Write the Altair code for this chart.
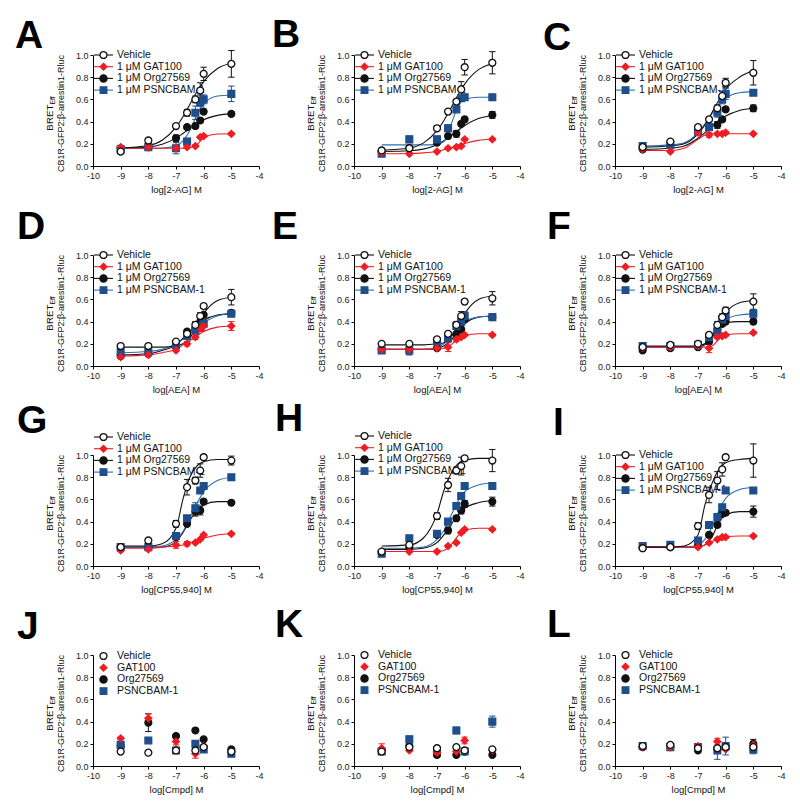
import altair as alt
import pandas as pd

FONT = "Liberation Sans"
SERIES = ["Vehicle", "GAT100", "Org27569", "PSNCBAM-1"]
DRAW_ORDER = ["Org27569", "PSNCBAM-1", "GAT100", "Vehicle"]
LEG_CURVE = ["Vehicle", "1 μM GAT100", "1 μM Org27569", "1 μM PSNCBAM-1"]
LEG_PLAIN = ["Vehicle", "GAT100", "Org27569", "PSNCBAM-1"]

X8 = [-9, -8, -7, -6.6, -6.3, -6.125, -6, -5]
X6 = [-9, -8, -7, -6.3, -6, -5]
XK = [-9, -8, -7.5, -7, -6.75, -6.5, -6.25, -6, -5.5, -5]

# ---------------- data ----------------
A_y = {"Vehicle": [0.13, 0.23, 0.36, 0.48, 0.60, 0.68, 0.83, 0.92],
       "GAT100": [0.17, 0.17, 0.16, 0.17, 0.18, 0.26, 0.27, 0.29],
       "Org27569": [0.16, 0.17, 0.25, 0.35, 0.36, 0.41, 0.49, 0.47],
       "PSNCBAM-1": [0.15, 0.17, 0.16, 0.22, 0.48, 0.57, 0.60, 0.65]}
A_err = {"Vehicle": [0.02, 0.02, 0.02, 0.03, 0.03, 0.07, 0.06, 0.12],
         "GAT100": [0.01, 0.01, 0.01, 0.01, 0.01, 0.01, 0.01, 0.01],
         "Org27569": [0.01, 0.01, 0.03, 0.02, 0.02, 0.02, 0.02, 0.02],
         "PSNCBAM-1": [0.02, 0.02, 0.05, 0.03, 0.06, 0.07, 0.04, 0.07]}
A_fit = {"Vehicle": [0.162, 0.185, 0.232, 0.35, 0.444, 0.555, 0.666, 0.76, 0.878, 0.925],
         "GAT100": [0.16, 0.16, 0.16, 0.16, 0.16, 0.165, 0.19, 0.255, 0.288, 0.29],
         "Org27569": [0.161, 0.172, 0.196, 0.251, 0.293, 0.338, 0.381, 0.416, 0.456, 0.472],
         "PSNCBAM-1": [0.16, 0.16, 0.162, 0.183, 0.226, 0.32, 0.454, 0.56, 0.63, 0.64]}

B_y = {"Vehicle": [0.14, 0.16, 0.34, 0.49, 0.58, 0.69, 0.89, 0.93],
       "GAT100": [0.12, 0.11, 0.13, 0.16, 0.17, 0.18, 0.24, 0.24],
       "Org27569": [0.13, 0.16, 0.21, 0.27, 0.29, 0.38, 0.42, 0.46],
       "PSNCBAM-1": [0.11, 0.24, 0.24, 0.34, 0.51, 0.61, 0.62, 0.62]}
B_err = {"Vehicle": [0.02, 0.02, 0.02, 0.02, 0.02, 0.07, 0.07, 0.10],
         "GAT100": [0.01, 0.01, 0.01, 0.01, 0.01, 0.01, 0.01, 0.01],
         "Org27569": [0.01, 0.01, 0.01, 0.02, 0.03, 0.02, 0.02, 0.03],
         "PSNCBAM-1": [0.01, 0.03, 0.03, 0.03, 0.02, 0.02, 0.01, 0.01]}
B_fit = {"Vehicle": [0.142, 0.162, 0.206, 0.318, 0.41, 0.521, 0.637, 0.738, 0.868, 0.922],
         "GAT100": [0.11, 0.113, 0.118, 0.133, 0.147, 0.164, 0.184, 0.203, 0.231, 0.243],
         "Org27569": [0.131, 0.137, 0.152, 0.192, 0.227, 0.271, 0.319, 0.365, 0.428, 0.455],
         "PSNCBAM-1": [0.19, 0.19, 0.19, 0.195, 0.22, 0.37, 0.53, 0.60, 0.62, 0.62]}

C_y = {"Vehicle": [0.17, 0.22, 0.35, 0.42, 0.52, 0.63, 0.75, 0.84],
       "GAT100": [0.15, 0.13, 0.30, 0.28, 0.29, 0.29, 0.30, 0.29],
       "Org27569": [0.15, 0.18, 0.32, 0.36, 0.37, 0.42, 0.51, 0.52],
       "PSNCBAM-1": [0.18, 0.19, 0.31, 0.35, 0.48, 0.60, 0.65, 0.66]}
C_err = {"Vehicle": [0.01, 0.02, 0.02, 0.02, 0.03, 0.04, 0.04, 0.11],
         "GAT100": [0.01, 0.01, 0.01, 0.02, 0.01, 0.01, 0.01, 0.01],
         "Org27569": [0.01, 0.01, 0.02, 0.02, 0.03, 0.02, 0.02, 0.03],
         "PSNCBAM-1": [0.01, 0.01, 0.02, 0.03, 0.04, 0.04, 0.05, 0.02]}
C_fit = {"Vehicle": [0.17, 0.18, 0.20, 0.29, 0.37, 0.48, 0.59, 0.69, 0.80, 0.86],
         "GAT100": [0.14, 0.14, 0.16, 0.24, 0.28, 0.29, 0.29, 0.29, 0.29, 0.29],
         "Org27569": [0.15, 0.16, 0.18, 0.25, 0.30, 0.35, 0.41, 0.45, 0.50, 0.52],
         "PSNCBAM-1": [0.18, 0.19, 0.21, 0.30, 0.38, 0.47, 0.55, 0.61, 0.66, 0.67]}

D_y = {"Vehicle": [0.18, 0.18, 0.22, 0.29, 0.37, 0.45, 0.54, 0.62],
       "GAT100": [0.08, 0.10, 0.14, 0.20, 0.26, 0.34, 0.36, 0.36],
       "Org27569": [0.09, 0.11, 0.19, 0.31, 0.34, 0.40, 0.46, 0.48],
       "PSNCBAM-1": [0.13, 0.13, 0.19, 0.27, 0.32, 0.36, 0.38, 0.47]}
D_err = {"Vehicle": [0.01, 0.01, 0.01, 0.02, 0.03, 0.03, 0.02, 0.07],
         "GAT100": [0.01, 0.01, 0.01, 0.02, 0.02, 0.03, 0.04, 0.04],
         "Org27569": [0.01, 0.01, 0.01, 0.02, 0.05, 0.03, 0.02, 0.02],
         "PSNCBAM-1": [0.01, 0.01, 0.01, 0.02, 0.02, 0.05, 0.03, 0.02]}
D_fit = {"Vehicle": [0.17, 0.17, 0.17, 0.18, 0.20, 0.25, 0.36, 0.47, 0.59, 0.62],
         "GAT100": [0.09, 0.10, 0.12, 0.15, 0.19, 0.23, 0.27, 0.31, 0.35, 0.36],
         "Org27569": [0.10, 0.11, 0.14, 0.19, 0.25, 0.31, 0.36, 0.41, 0.46, 0.47],
         "PSNCBAM-1": [0.12, 0.13, 0.15, 0.20, 0.24, 0.29, 0.34, 0.39, 0.45, 0.48]}

E_y = {"Vehicle": [0.20, 0.20, 0.24, 0.29, 0.37, 0.45, 0.58, 0.61],
       "GAT100": [0.15, 0.15, 0.16, 0.17, 0.24, 0.26, 0.28, 0.28],
       "Org27569": [0.15, 0.15, 0.16, 0.25, 0.29, 0.33, 0.42, 0.44],
       "PSNCBAM-1": [0.14, 0.14, 0.22, 0.25, 0.36, 0.40, 0.45, 0.44]}
E_err = {"Vehicle": [0.01, 0.01, 0.01, 0.02, 0.03, 0.04, 0.02, 0.06],
         "GAT100": [0.01, 0.01, 0.01, 0.04, 0.02, 0.01, 0.01, 0.01],
         "Org27569": [0.01, 0.05, 0.01, 0.02, 0.05, 0.03, 0.02, 0.02],
         "PSNCBAM-1": [0.02, 0.02, 0.02, 0.03, 0.03, 0.03, 0.04, 0.03]}
E_fit = {"Vehicle": [0.19, 0.19, 0.19, 0.20, 0.21, 0.26, 0.35, 0.47, 0.60, 0.63],
         "GAT100": [0.15, 0.15, 0.15, 0.15, 0.16, 0.19, 0.24, 0.27, 0.29, 0.29],
         "Org27569": [0.15, 0.15, 0.15, 0.16, 0.18, 0.23, 0.31, 0.38, 0.44, 0.45],
         "PSNCBAM-1": [0.15, 0.15, 0.15, 0.17, 0.20, 0.26, 0.34, 0.40, 0.44, 0.45]}

F_y = {"Vehicle": [0.17, 0.19, 0.20, 0.28, 0.37, 0.44, 0.50, 0.58],
       "GAT100": [0.16, 0.17, 0.18, 0.16, 0.26, 0.27, 0.28, 0.30],
       "Org27569": [0.14, 0.16, 0.17, 0.22, 0.33, 0.38, 0.40, 0.40],
       "PSNCBAM-1": [0.18, 0.18, 0.19, 0.26, 0.31, 0.42, 0.45, 0.47]}
F_err = {"Vehicle": [0.01, 0.01, 0.02, 0.02, 0.03, 0.03, 0.03, 0.07],
         "GAT100": [0.01, 0.01, 0.01, 0.04, 0.01, 0.01, 0.01, 0.01],
         "Org27569": [0.01, 0.02, 0.02, 0.02, 0.04, 0.02, 0.02, 0.02],
         "PSNCBAM-1": [0.02, 0.02, 0.03, 0.03, 0.03, 0.03, 0.02, 0.04]}
F_fit = {"Vehicle": [0.18, 0.18, 0.18, 0.18, 0.20, 0.25, 0.38, 0.48, 0.57, 0.59],
         "GAT100": [0.17, 0.17, 0.17, 0.17, 0.17, 0.18, 0.24, 0.28, 0.29, 0.29],
         "Org27569": [0.17, 0.17, 0.17, 0.17, 0.19, 0.27, 0.36, 0.39, 0.40, 0.40],
         "PSNCBAM-1": [0.17, 0.17, 0.17, 0.18, 0.20, 0.28, 0.37, 0.42, 0.46, 0.47]}

G_y = {"Vehicle": [0.17, 0.23, 0.38, 0.71, 0.77, 0.86, 0.98, 0.95],
       "GAT100": [0.14, 0.15, 0.19, 0.20, 0.21, 0.24, 0.28, 0.29],
       "Org27569": [0.17, 0.17, 0.26, 0.38, 0.49, 0.50, 0.58, 0.57],
       "PSNCBAM-1": [0.17, 0.17, 0.27, 0.43, 0.52, 0.68, 0.72, 0.80]}
G_err = {"Vehicle": [0.01, 0.01, 0.03, 0.07, 0.03, 0.06, 0.02, 0.04],
         "GAT100": [0.01, 0.01, 0.03, 0.02, 0.01, 0.01, 0.01, 0.01],
         "Org27569": [0.01, 0.01, 0.02, 0.02, 0.04, 0.04, 0.02, 0.01],
         "PSNCBAM-1": [0.01, 0.01, 0.02, 0.02, 0.05, 0.02, 0.02, 0.02]}
G_fit = {"Vehicle": [0.18, 0.18, 0.20, 0.34, 0.60, 0.80, 0.90, 0.94, 0.96, 0.96],
         "GAT100": [0.16, 0.16, 0.17, 0.18, 0.19, 0.21, 0.23, 0.25, 0.28, 0.29],
         "Org27569": [0.17, 0.17, 0.17, 0.22, 0.30, 0.41, 0.50, 0.55, 0.58, 0.58],
         "PSNCBAM-1": [0.17, 0.17, 0.18, 0.24, 0.31, 0.43, 0.56, 0.67, 0.77, 0.80]}

H_y = {"Vehicle": [0.13, 0.19, 0.45, 0.73, 0.86, 0.90, 0.97, 0.95],
       "GAT100": [0.13, 0.13, 0.13, 0.18, 0.21, 0.30, 0.33, 0.33],
       "Org27569": [0.12, 0.17, 0.28, 0.32, 0.43, 0.50, 0.56, 0.58],
       "PSNCBAM-1": [0.11, 0.25, 0.29, 0.40, 0.54, 0.63, 0.72, 0.72]}
H_err = {"Vehicle": [0.01, 0.01, 0.03, 0.06, 0.03, 0.08, 0.02, 0.10],
         "GAT100": [0.01, 0.01, 0.01, 0.01, 0.01, 0.01, 0.01, 0.01],
         "Org27569": [0.01, 0.01, 0.02, 0.03, 0.02, 0.03, 0.03, 0.04],
         "PSNCBAM-1": [0.01, 0.02, 0.02, 0.02, 0.02, 0.02, 0.02, 0.02]}
H_fit = {"Vehicle": [0.18, 0.19, 0.25, 0.47, 0.68, 0.83, 0.92, 0.95, 0.97, 0.97],
         "GAT100": [0.13, 0.13, 0.13, 0.13, 0.14, 0.19, 0.27, 0.32, 0.34, 0.34],
         "Org27569": [0.15, 0.15, 0.16, 0.21, 0.28, 0.37, 0.46, 0.52, 0.57, 0.59],
         "PSNCBAM-1": [0.16, 0.16, 0.17, 0.24, 0.32, 0.45, 0.58, 0.67, 0.73, 0.75]}

I_y = {"Vehicle": [0.16, 0.17, 0.36, 0.64, 0.77, 0.87, 0.98, 0.95],
       "GAT100": [0.17, 0.17, 0.17, 0.21, 0.24, 0.26, 0.26, 0.27],
       "Org27569": [0.17, 0.17, 0.20, 0.28, 0.37, 0.47, 0.48, 0.49],
       "PSNCBAM-1": [0.18, 0.19, 0.23, 0.37, 0.44, 0.53, 0.68, 0.68]}
I_err = {"Vehicle": [0.01, 0.01, 0.03, 0.07, 0.08, 0.06, 0.02, 0.15],
         "GAT100": [0.01, 0.01, 0.01, 0.01, 0.01, 0.01, 0.01, 0.01],
         "Org27569": [0.01, 0.01, 0.01, 0.02, 0.02, 0.02, 0.02, 0.05],
         "PSNCBAM-1": [0.01, 0.01, 0.01, 0.02, 0.02, 0.02, 0.01, 0.01]}
I_fit = {"Vehicle": [0.17, 0.17, 0.18, 0.28, 0.55, 0.74, 0.87, 0.93, 0.96, 0.97],
         "GAT100": [0.17, 0.17, 0.17, 0.17, 0.19, 0.22, 0.25, 0.265, 0.27, 0.27],
         "Org27569": [0.17, 0.17, 0.17, 0.17, 0.19, 0.26, 0.39, 0.46, 0.49, 0.49],
         "PSNCBAM-1": [0.17, 0.17, 0.17, 0.19, 0.24, 0.35, 0.50, 0.61, 0.69, 0.71]}

J_y = {"Vehicle": [0.13, 0.12, 0.14, 0.14, 0.17, 0.13],
       "GAT100": [0.25, 0.43, 0.22, 0.11, 0.18, 0.13],
       "Org27569": [0.18, 0.39, 0.27, 0.32, 0.24, 0.15],
       "PSNCBAM-1": [0.19, 0.23, 0.14, 0.20, 0.15, 0.11]}
J_err = {"Vehicle": [0.0, 0.0, 0.01, 0.03, 0.01, 0.01],
         "GAT100": [0.01, 0.04, 0.03, 0.04, 0.01, 0.01],
         "Org27569": [0.01, 0.08, 0.01, 0.01, 0.01, 0.01],
         "PSNCBAM-1": [0.01, 0.01, 0.01, 0.01, 0.01, 0.01]}

K_y = {"Vehicle": [0.13, 0.17, 0.16, 0.17, 0.14, 0.15],
       "GAT100": [0.16, 0.14, 0.12, 0.13, 0.23, 0.14],
       "Org27569": [0.14, 0.18, 0.10, 0.10, 0.13, 0.10],
       "PSNCBAM-1": [0.13, 0.24, 0.14, 0.32, 0.13, 0.40]}
K_err = {"Vehicle": [0.0, 0.0, 0.0, 0.0, 0.0, 0.0],
         "GAT100": [0.04, 0.01, 0.01, 0.01, 0.03, 0.02],
         "Org27569": [0.01, 0.01, 0.01, 0.01, 0.01, 0.01],
         "PSNCBAM-1": [0.02, 0.03, 0.01, 0.03, 0.01, 0.05]}

L_y = {"Vehicle": [0.18, 0.19, 0.16, 0.16, 0.17, 0.17],
       "GAT100": [0.17, 0.17, 0.18, 0.22, 0.15, 0.19],
       "Org27569": [0.17, 0.17, 0.14, 0.15, 0.17, 0.20],
       "PSNCBAM-1": [0.18, 0.17, 0.17, 0.14, 0.18, 0.15]}
L_err = {"Vehicle": [0.0, 0.0, 0.0, 0.0, 0.0, 0.0],
         "GAT100": [0.01, 0.01, 0.01, 0.03, 0.01, 0.02],
         "Org27569": [0.01, 0.01, 0.01, 0.01, 0.01, 0.04],
         "PSNCBAM-1": [0.01, 0.01, 0.01, 0.08, 0.08, 0.04]}

X_TITLES = {"A": "log[2-AG] M", "B": "log[2-AG] M", "C": "log[2-AG] M",
            "D": "log[AEA] M", "E": "log[AEA] M", "F": "log[AEA] M",
            "G": "log[CP55,940] M", "H": "log[CP55,940] M", "I": "log[CP55,940] M",
            "J": "log[Cmpd] M", "K": "log[Cmpd] M", "L": "log[Cmpd] M"}

PANELS = [("A", X8, A_y, A_err, A_fit), ("B", X8, B_y, B_err, B_fit), ("C", X8, C_y, C_err, C_fit),
          ("D", X8, D_y, D_err, D_fit), ("E", X8, E_y, E_err, E_fit), ("F", X8, F_y, F_err, F_fit),
          ("G", X8, G_y, G_err, G_fit), ("H", X8, H_y, H_err, H_fit), ("I", X8, I_y, I_err, I_fit),
          ("J", X6, J_y, J_err, None), ("K", X6, K_y, K_err, None), ("L", X6, L_y, L_err, None)]

# ---------------- styling / layout ----------------
W, H = 166, 111
LINE_COL = {"Vehicle": "#111111", "GAT100": "#ee1d23", "Org27569": "#111111", "PSNCBAM-1": "#2f6fb2"}
MK_STROKE = {"Vehicle": "#111111", "GAT100": "#ee1d23", "Org27569": "#111111", "PSNCBAM-1": "#1f4e8c"}
MK_FILL = {"Vehicle": "#ffffff", "GAT100": "#ee1d23", "Org27569": "#111111", "PSNCBAM-1": "#1f4e8c"}
MK_SHAPE = {"Vehicle": "circle", "GAT100": "diamond", "Org27569": "circle", "PSNCBAM-1": "square"}
MK_SIZE = {"Vehicle": 48, "GAT100": 46, "Org27569": 52, "PSNCBAM-1": 44}
LEG_Y0 = {"A": 0, "B": 0, "C": 0, "D": 0, "E": 0, "F": 0, "G": -18, "H": -19, "I": 0,
          "J": 1, "K": 0, "L": 0}
LETTER_POS = {"A": (-78, -7), "B": (-82, -8), "C": (-72, -5), "D": (-76, -16), "E": (-82, -16),
              "F": (-68, -16), "G": (-76, -22), "H": (-79, -24), "I": (-62, -20),
              "J": (-76, -16), "K": (-79, -18), "L": (-68, -18)}

ONE = pd.DataFrame({"k": [0]})


def sc(d):
    return alt.Scale(domain=SERIES, range=[d[s] for s in SERIES])


def panel(letter, xs, ydict, edict, fdict):
    xscale = alt.Scale(domain=[-10, -4], nice=False, zero=False)
    yscale = alt.Scale(domain=[0, 1], nice=False, zero=True)
    xax = alt.Axis(values=list(range(-10, -3)), title=X_TITLES[letter],
                   labelExpr="toString(datum.value)", labelFlush=False,
                   labelOverlap=False, titlePadding=4)
    yax = alt.Axis(values=[0, 0.2, 0.4, 0.6, 0.8, 1.0], format=".1f", title=None,
                   labelFlush=False, labelOverlap=False)

    def X(f):
        return alt.X(f, type="quantitative", scale=xscale, axis=xax)

    def Y(f):
        return alt.Y(f, type="quantitative", scale=yscale, axis=yax)

    rows = []
    for s in DRAW_ORDER:
        for x, y, e in zip(xs, ydict[s], edict[s]):
            rows.append({"series": s, "x": x, "y": y, "err": e})
    pdf = pd.DataFrame(rows)

    layers = []
    if fdict is not None:
        crow = []
        for s in DRAW_ORDER:
            for x, y in zip(XK, fdict[s]):
                crow.append({"series": s, "x": x, "y": y})
        cdf = pd.DataFrame(crow)
        layers.append(
            alt.Chart(cdf).mark_line(interpolate="monotone", strokeWidth=1.1).encode(
                x=X("x"), y=Y("y"),
                stroke=alt.Stroke("series:N", scale=sc(LINE_COL), legend=None),
                detail="series:N"))
    else:
        # keep axes defined by a data layer first
        layers.append(alt.Chart(pdf).mark_point(opacity=0, size=1).encode(x=X("x"), y=Y("y")))

    # legend (drawn by hand, as in the figure; sits beneath the data)
    labels = LEG_CURVE if fdict is not None else LEG_PLAIN
    for i, s in enumerate(SERIES):
        yy = LEG_Y0[letter] + i * 11.7
        if fdict is not None:
            layers.append(alt.Chart(ONE).mark_rule(stroke=LINE_COL[s], strokeWidth=1.1).encode(
                x=alt.value(1), x2=alt.value(20), y=alt.value(yy)))
        layers.append(alt.Chart(ONE).mark_point(
            shape=MK_SHAPE[s], fill=MK_FILL[s], stroke=MK_STROKE[s], size=MK_SIZE[s],
            filled=True, opacity=1, strokeWidth=1.3).encode(x=alt.value(10.5), y=alt.value(yy)))
        layers.append(alt.Chart(ONE).mark_text(
            align="left", baseline="middle", fontSize=10.5, font=FONT, color="#111111").encode(
            x=alt.value(24), y=alt.value(yy), text=alt.value(labels[i])))

    eb = alt.Chart(pdf).transform_filter("datum.err > 0").transform_calculate(
        lo="datum.y - datum.err", hi="datum.y + datum.err")
    layers.append(eb.mark_rule(strokeWidth=1).encode(
        x=X("x"), y=Y("lo"), y2=alt.Y2("hi:Q"),
        stroke=alt.Stroke("series:N", scale=sc(MK_STROKE), legend=None)))
    for f in ["lo", "hi"]:
        layers.append(eb.mark_point(shape="M-1,0H1", size=40, filled=False, opacity=1,
                                    strokeWidth=1).encode(
            x=X("x"), y=Y(f),
            stroke=alt.Stroke("series:N", scale=sc(MK_STROKE), legend=None)))

    layers.append(alt.Chart(pdf).mark_point(filled=True, opacity=1, strokeWidth=1.3).encode(
        x=X("x"), y=Y("y"),
        shape=alt.Shape("series:N", scale=sc(MK_SHAPE), legend=None),
        fill=alt.Fill("series:N", scale=sc(MK_FILL), legend=None),
        stroke=alt.Stroke("series:N", scale=sc(MK_STROKE), legend=None),
        size=alt.Size("series:N", scale=sc(MK_SIZE), legend=None)))

    # y-axis title: BRET_Eff / CB1R-GFP2:β-arrestin1-Rluc
    layers.append(alt.Chart(ONE).mark_text(
        angle=270, align="right", baseline="middle", fontSize=9.8, font=FONT, color="#111111").encode(
        x=alt.value(-43), y=alt.value(H / 2 - 6), text=alt.value("BRET")))
    layers.append(alt.Chart(ONE).mark_text(
        angle=270, align="left", baseline="middle", fontSize=6.8, font=FONT, color="#111111").encode(
        x=alt.value(-40), y=alt.value(H / 2 - 6), text=alt.value("Eff")))
    layers.append(alt.Chart(ONE).mark_text(
        angle=270, align="center", baseline="middle", fontSize=9, font=FONT, color="#111111").encode(
        x=alt.value(-32), y=alt.value(H / 2 + 3), text=alt.value("CB1R-GFP2:β-arrestin1-Rluc")))

    # panel letter
    lx, ly = LETTER_POS[letter]
    layers.append(alt.Chart(ONE).mark_text(
        align="left", baseline="alphabetic", fontSize=39, fontWeight="bold", font=FONT,
        color="#000000").encode(x=alt.value(lx), y=alt.value(ly), text=alt.value(letter)))

    return alt.layer(*layers).resolve_scale(
        stroke="independent", fill="independent", shape="independent", size="independent"
    ).properties(width=W, height=H)


charts = [panel(*p) for p in PANELS]

chart = alt.concat(*charts, columns=3, spacing={"row": 89, "column": 95}, bounds="flush").properties(
    padding={"left": 7, "top": 8, "right": 5, "bottom": 5}
).configure_view(stroke=None).configure_axis(
    grid=False, domainColor="#000000", tickColor="#000000", domainWidth=1, tickWidth=1,
    tickSize=3, labelFont=FONT, labelFontSize=9, labelColor="#222222", labelPadding=2,
    titleFont=FONT, titleFontSize=9.5, titleFontWeight="normal", titleColor="#111111"
)

chart.save("out.html", embed_options={"renderer": "svg", "actions": False})
